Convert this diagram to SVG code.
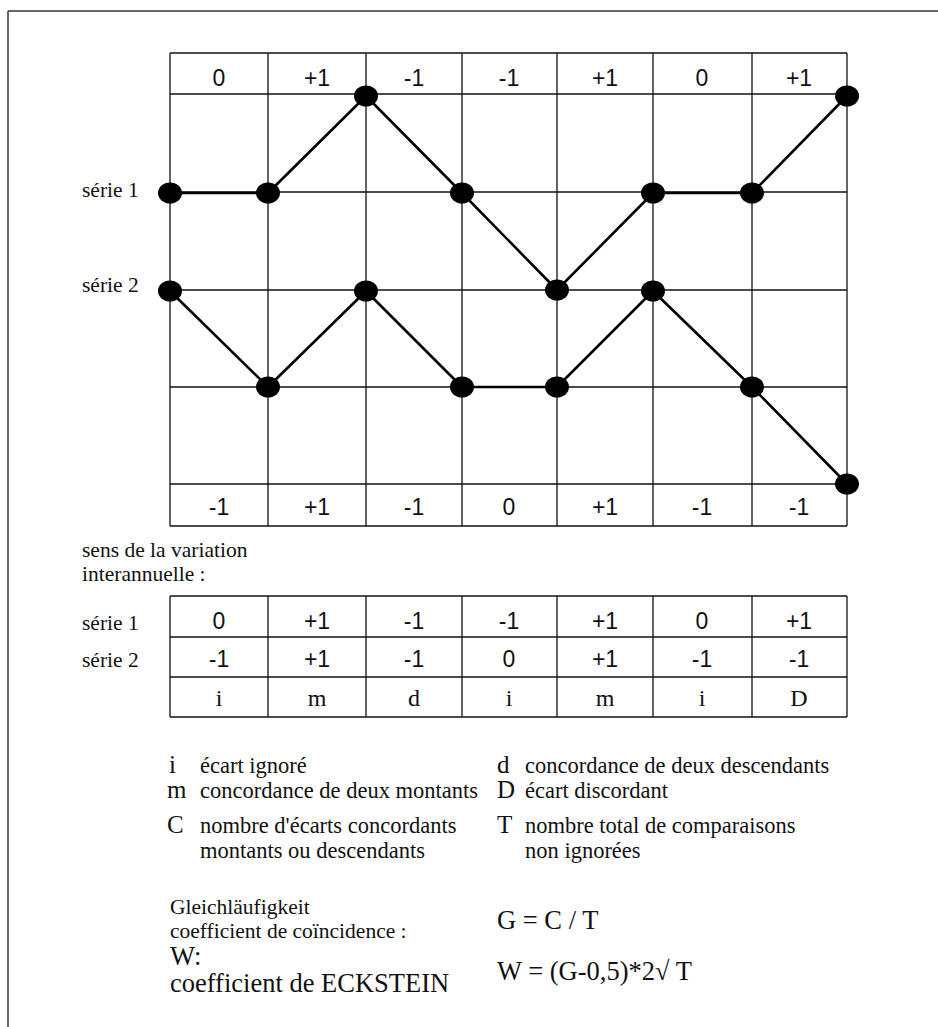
<svg xmlns="http://www.w3.org/2000/svg" width="938" height="1027" viewBox="0 0 938 1027">
<style>
.frame{stroke:#333;stroke-width:1.5;fill:none}
.grid{stroke:#111;stroke-width:1.3;fill:none}
.ser{stroke:#000;stroke-width:2.6;fill:none;stroke-linejoin:round}
.num{font-family:"Liberation Sans",Arial,sans-serif;font-size:23px;fill:#111;text-anchor:middle}
.let{font-family:"Liberation Serif","Times New Roman",serif;font-size:24px;fill:#111;text-anchor:middle}
.lab{font-family:"Liberation Serif","Times New Roman",serif;font-size:21.5px;fill:#111}
.desc{font-family:"Liberation Serif","Times New Roman",serif;font-size:22.5px;fill:#111}
.key{font-family:"Liberation Serif","Times New Roman",serif;font-size:25px;fill:#111}
.big{font-family:"Liberation Serif","Times New Roman",serif;font-size:26.5px;fill:#111}
</style>
<defs>
<ellipse id="dot" cx="0" cy="0" rx="12" ry="10.5" fill="#000"/>
</defs>
<g id="frame">
<line class="frame" x1="8" y1="11" x2="938" y2="11"/>
<line class="frame" x1="8" y1="11" x2="8" y2="1027"/>
</g>
<g id="chart-grid">
<line class="grid" x1="170" y1="53" x2="847" y2="53"/>
<line class="grid" x1="170" y1="94" x2="847" y2="94"/>
<line class="grid" x1="170" y1="192" x2="847" y2="192"/>
<line class="grid" x1="170" y1="290" x2="847" y2="290"/>
<line class="grid" x1="170" y1="387" x2="847" y2="387"/>
<line class="grid" x1="170" y1="484" x2="847" y2="484"/>
<line class="grid" x1="170" y1="526" x2="847" y2="526"/>
<line class="grid" x1="170" y1="53" x2="170" y2="526"/>
<line class="grid" x1="268" y1="53" x2="268" y2="526"/>
<line class="grid" x1="366" y1="53" x2="366" y2="526"/>
<line class="grid" x1="462" y1="53" x2="462" y2="526"/>
<line class="grid" x1="557" y1="53" x2="557" y2="526"/>
<line class="grid" x1="653" y1="53" x2="653" y2="526"/>
<line class="grid" x1="752" y1="53" x2="752" y2="526"/>
<line class="grid" x1="847" y1="53" x2="847" y2="526"/>
</g>
<g id="top-values">
<text class="num" x="219" y="86">0</text>
<text class="num" x="317" y="86">+1</text>
<text class="num" x="414" y="86">-1</text>
<text class="num" x="509" y="86">-1</text>
<text class="num" x="605" y="86">+1</text>
<text class="num" x="702" y="86">0</text>
<text class="num" x="799" y="86">+1</text>
</g>
<g id="bottom-values">
<text class="num" x="219" y="515">-1</text>
<text class="num" x="317" y="515">+1</text>
<text class="num" x="414" y="515">-1</text>
<text class="num" x="509" y="515">0</text>
<text class="num" x="605" y="515">+1</text>
<text class="num" x="702" y="515">-1</text>
<text class="num" x="799" y="515">-1</text>
</g>
<g id="connectors">
<polyline class="ser" points="170,193 268,193 366,96 462,193 557,290 653,193 752,193 847,96"/>
<polyline class="ser" points="170,291 268,387 366,291 462,387 557,387 653,291 752,387 847,484"/>
</g>
<g id="serie1">
<text class="lab" x="82" y="197">série 1</text>
<use href="#dot" x="170" y="193"/>
<use href="#dot" x="268" y="193"/>
<use href="#dot" x="366" y="96"/>
<use href="#dot" x="462" y="193"/>
<use href="#dot" x="557" y="290"/>
<use href="#dot" x="653" y="193"/>
<use href="#dot" x="752" y="193"/>
<use href="#dot" x="847" y="96"/>
</g>
<g id="serie2">
<text class="lab" x="82" y="292">série 2</text>
<use href="#dot" x="170" y="291"/>
<use href="#dot" x="268" y="387"/>
<use href="#dot" x="366" y="291"/>
<use href="#dot" x="462" y="387"/>
<use href="#dot" x="557" y="387"/>
<use href="#dot" x="653" y="291"/>
<use href="#dot" x="752" y="387"/>
<use href="#dot" x="847" y="484"/>
</g>
<g id="caption">
<text class="lab" x="82" y="557">sens de la variation</text>
<text class="lab" x="82" y="581">interannuelle :</text>
</g>
<g id="table">
<line class="grid" x1="170" y1="596" x2="847" y2="596"/>
<line class="grid" x1="170" y1="637" x2="847" y2="637"/>
<line class="grid" x1="170" y1="677" x2="847" y2="677"/>
<line class="grid" x1="170" y1="717" x2="847" y2="717"/>
<line class="grid" x1="170" y1="596" x2="170" y2="717"/>
<line class="grid" x1="268" y1="596" x2="268" y2="717"/>
<line class="grid" x1="366" y1="596" x2="366" y2="717"/>
<line class="grid" x1="462" y1="596" x2="462" y2="717"/>
<line class="grid" x1="557" y1="596" x2="557" y2="717"/>
<line class="grid" x1="653" y1="596" x2="653" y2="717"/>
<line class="grid" x1="752" y1="596" x2="752" y2="717"/>
<line class="grid" x1="847" y1="596" x2="847" y2="717"/>
<text class="lab" x="82" y="630">série 1</text>
<text class="lab" x="82" y="667">série 2</text>
<text class="num" x="219" y="629">0</text>
<text class="num" x="317" y="629">+1</text>
<text class="num" x="414" y="629">-1</text>
<text class="num" x="509" y="629">-1</text>
<text class="num" x="605" y="629">+1</text>
<text class="num" x="702" y="629">0</text>
<text class="num" x="799" y="629">+1</text>
<text class="num" x="219" y="667">-1</text>
<text class="num" x="317" y="667">+1</text>
<text class="num" x="414" y="667">-1</text>
<text class="num" x="509" y="667">0</text>
<text class="num" x="605" y="667">+1</text>
<text class="num" x="702" y="667">-1</text>
<text class="num" x="799" y="667">-1</text>
<text class="let" x="219" y="706">i</text>
<text class="let" x="317" y="706">m</text>
<text class="let" x="414" y="706">d</text>
<text class="let" x="509" y="706">i</text>
<text class="let" x="605" y="706">m</text>
<text class="let" x="702" y="706">i</text>
<text class="let" x="799" y="706">D</text>
</g>
<g id="legend">
<text class="key" x="169" y="773">i</text>
<text class="desc" x="200" y="773">écart ignoré</text>
<text class="key" x="167" y="798">m</text>
<text class="desc" x="200" y="798">concordance de deux montants</text>
<text class="key" x="497" y="773">d</text>
<text class="desc" x="525" y="773">concordance de deux descendants</text>
<text class="key" x="497" y="798">D</text>
<text class="desc" x="525" y="798">écart discordant</text>
<text class="key" x="167" y="833">C</text>
<text class="desc" x="200" y="833">nombre d'écarts concordants</text>
<text class="desc" x="200" y="858">montants ou descendants</text>
<text class="key" x="497" y="833">T</text>
<text class="desc" x="525" y="833">nombre total de comparaisons</text>
<text class="desc" x="525" y="858">non ignorées</text>
</g>
<g id="coefficients">
<text class="lab" x="170" y="914">Gleichläufigkeit</text>
<text class="lab" x="170" y="938">coefficient de coïncidence :</text>
<text class="big" x="170" y="965">W:</text>
<text class="big" x="170" y="992">coefficient de ECKSTEIN</text>
<text class="big" x="497" y="929">G = C / T</text>
<text class="big" x="497" y="980">W = (G-0,5)*2√ T</text>
</g>
</svg>
